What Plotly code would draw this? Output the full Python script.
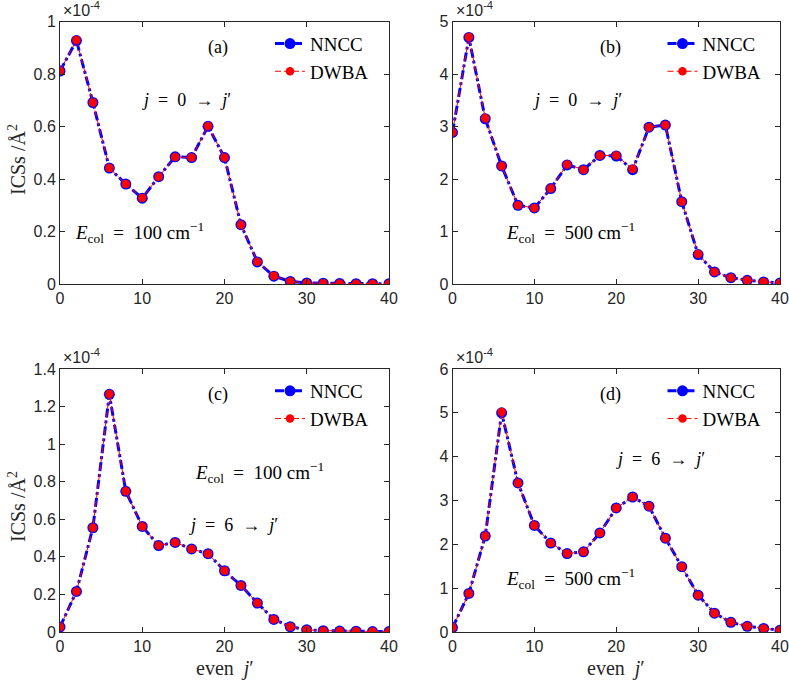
import plotly.graph_objects as go

# ---- data (ICS values in units of 1e-4 Å^2) ----
j_prime = [0, 2, 4, 6, 8, 10, 12, 14, 16, 18, 20, 22, 24, 26, 28, 30, 32, 34, 36, 38, 40]

a_nncc = [0.812, 0.928, 0.692, 0.442, 0.381, 0.327, 0.409, 0.485, 0.482, 0.601, 0.482,
          0.226, 0.084, 0.030, 0.010, 0.004, 0.003, 0.002, 0.001, 0.001, 0.001]
a_dwba = [0.812, 0.930, 0.692, 0.442, 0.381, 0.328, 0.409, 0.484, 0.482, 0.602, 0.482,
          0.226, 0.085, 0.031, 0.010, 0.004, 0.003, 0.002, 0.001, 0.001, 0.001]

b_nncc = [2.89, 4.70, 3.15, 2.25, 1.50, 1.45, 1.82, 2.27, 2.18, 2.45, 2.44,
          2.18, 2.99, 3.03, 1.57, 0.56, 0.23, 0.12, 0.07, 0.04, 0.02]
b_dwba = [2.89, 4.71, 3.16, 2.25, 1.50, 1.45, 1.82, 2.28, 2.18, 2.45, 2.45,
          2.19, 2.99, 3.03, 1.57, 0.57, 0.23, 0.12, 0.07, 0.04, 0.02]

c_nncc = [0.027, 0.216, 0.555, 1.265, 0.749, 0.562, 0.460, 0.477, 0.442, 0.417, 0.326,
          0.248, 0.154, 0.067, 0.028, 0.012, 0.007, 0.005, 0.004, 0.002, 0.002]
c_dwba = [0.027, 0.216, 0.555, 1.267, 0.749, 0.562, 0.460, 0.477, 0.442, 0.417, 0.326,
          0.248, 0.154, 0.067, 0.028, 0.012, 0.007, 0.005, 0.004, 0.002, 0.002]

d_nncc = [0.10, 0.88, 2.19, 5.00, 3.40, 2.43, 2.03, 1.79, 1.83, 2.26, 2.83,
          3.08, 2.87, 2.14, 1.49, 0.84, 0.43, 0.22, 0.13, 0.08, 0.04]
d_dwba = [0.10, 0.88, 2.19, 5.02, 3.40, 2.43, 2.03, 1.79, 1.83, 2.26, 2.83,
          3.08, 2.87, 2.14, 1.49, 0.84, 0.43, 0.22, 0.13, 0.08, 0.04]

panels = [
    dict(nncc=a_nncc, dwba=a_dwba, ymax=1.0, ydtick=0.2, tag="(a)"),
    dict(nncc=b_nncc, dwba=b_dwba, ymax=5.0, ydtick=1.0, tag="(b)"),
    dict(nncc=c_nncc, dwba=c_dwba, ymax=1.4, ydtick=0.2, tag="(c)"),
    dict(nncc=d_nncc, dwba=d_dwba, ymax=6.0, ydtick=1.0, tag="(d)"),
]

W, H = 789, 681
SERIF = "Liberation Serif"
SANS = "Liberation Sans"
AXC = "#262626"
SP = "&#8194;"  # en space

# axis boxes in pixels (left, right, top, bottom)
boxes = [
    (60, 389, 21.7, 284),
    (452.5, 780, 21.7, 284),
    (60, 389, 369, 632),
    (452.5, 780, 369, 632),
]

def px(x):
    return x / W

def py(y):
    return 1 - y / H

fig = go.Figure()
layout = dict(
    width=W, height=H,
    margin=dict(l=0, r=0, t=0, b=0, pad=0, autoexpand=False),
    paper_bgcolor="white", plot_bgcolor="white",
    font=dict(family=SERIF, size=19, color="black"),
    annotations=[],
)

for i, (p, box) in enumerate(zip(panels, boxes)):
    n = i + 1
    xa = "x" if n == 1 else f"x{n}"
    ya = "y" if n == 1 else f"y{n}"
    leg = "legend" if n == 1 else f"legend{n}"
    fig.add_trace(go.Scatter(
        x=j_prime, y=p["nncc"], xaxis=xa, yaxis=ya, name="NNCC", legend=leg,
        mode="lines+markers",
        line=dict(color="#0000FF", width=3, dash="9px,3px,3px,3px"),
        marker=dict(color="#0000FF", size=11, symbol="circle"),
    ))
    fig.add_trace(go.Scatter(
        x=j_prime, y=p["dwba"], xaxis=xa, yaxis=ya, name="DWBA", legend=leg,
        mode="lines+markers",
        line=dict(color="#FF0000", width=1, dash="6px,3px"),
        marker=dict(color="#FF0000", size=8.5, symbol="circle"),
    ))
    l, r, t, b = box
    axcommon = dict(
        showline=True, linecolor=AXC, linewidth=1, mirror="ticks",
        ticks="inside", ticklen=5, tickcolor=AXC, tickwidth=1,
        showgrid=False, zeroline=False, automargin=False,
        tickfont=dict(family=SANS, size=16, color=AXC),
    )
    layout[f"xaxis{'' if n == 1 else n}"] = dict(
        axcommon, domain=[px(l), px(r)], range=[0, 40], tick0=0, dtick=10,
        anchor=ya,
    )
    layout[f"yaxis{'' if n == 1 else n}"] = dict(
        axcommon, domain=[py(b), py(t)], range=[0, p["ymax"]], tick0=0,
        dtick=p["ydtick"], anchor=xa,
    )
    layout[leg] = dict(
        x=px(l + 210), y=py(t + 3), xanchor="left", yanchor="top",
        bgcolor="rgba(0,0,0,0)", borderwidth=0,
        font=dict(family=SERIF, size=19, color="black"),
        tracegroupgap=0, itemwidth=30,
    )
    # exponent label
    layout["annotations"].append(dict(
        text="×10<sup>-4</sup>", x=px(l + 1), y=py(t - 1), xref="paper", yref="paper",
        xanchor="left", yanchor="bottom", showarrow=False,
        font=dict(family=SANS, size=16, color=AXC),
    ))
    # panel tag
    layout["annotations"].append(dict(
        text=p["tag"], x=px(l + 158), y=py(t + 26), xref="paper", yref="paper",
        xanchor="center", yanchor="middle", showarrow=False,
        font=dict(family=SERIF, size=18, color="black"),
    ))

# text labels inside panels (pixel positions of their centres)
J0 = f"<i>j</i>{SP}={SP}0{SP}→{SP}<i>j</i>′"
J6 = f"<i>j</i>{SP}={SP}6{SP}→{SP}<i>j</i>′"
E100 = f"<i>E</i><sub>col</sub>{SP}={SP}100 cm<sup>−1</sup>"
E500 = f"<i>E</i><sub>col</sub>{SP}={SP}500 cm<sup>−1</sup>"
labels = [
    (J0, 186, 100, 18),
    (E100, 139, 232, 19),
    (J0, 577, 100, 18),
    (E500, 570, 232, 19),
    (E100, 259, 473, 19),
    (J6, 234, 525, 18),
    (J6, 660, 459, 18),
    (E500, 570, 578, 19),
]
for txt, x, y, fs in labels:
    layout["annotations"].append(dict(
        text=txt, x=px(x), y=py(y), xref="paper", yref="paper",
        xanchor="center", yanchor="middle", showarrow=False,
        font=dict(family=SERIF, size=fs, color="black"),
    ))

# axis titles
for yc in (160, 507):
    layout["annotations"].append(dict(
        text="ICSs /Å<sup>2</sup>", x=px(17), y=py(yc), xref="paper", yref="paper",
        xanchor="center", yanchor="middle", showarrow=False, textangle=-90,
        font=dict(family=SERIF, size=20, color=AXC),
    ))
for xc in (225, 616):
    layout["annotations"].append(dict(
        text=f"even{SP}<i>j</i>′", x=px(xc), y=py(668), xref="paper", yref="paper",
        xanchor="center", yanchor="middle", showarrow=False,
        font=dict(family=SERIF, size=20, color=AXC),
    ))

fig.update_layout(**layout)
fig.write_html("out.html", config={"displayModeBar": False},
               post_script="document.body.style.margin='0';")
